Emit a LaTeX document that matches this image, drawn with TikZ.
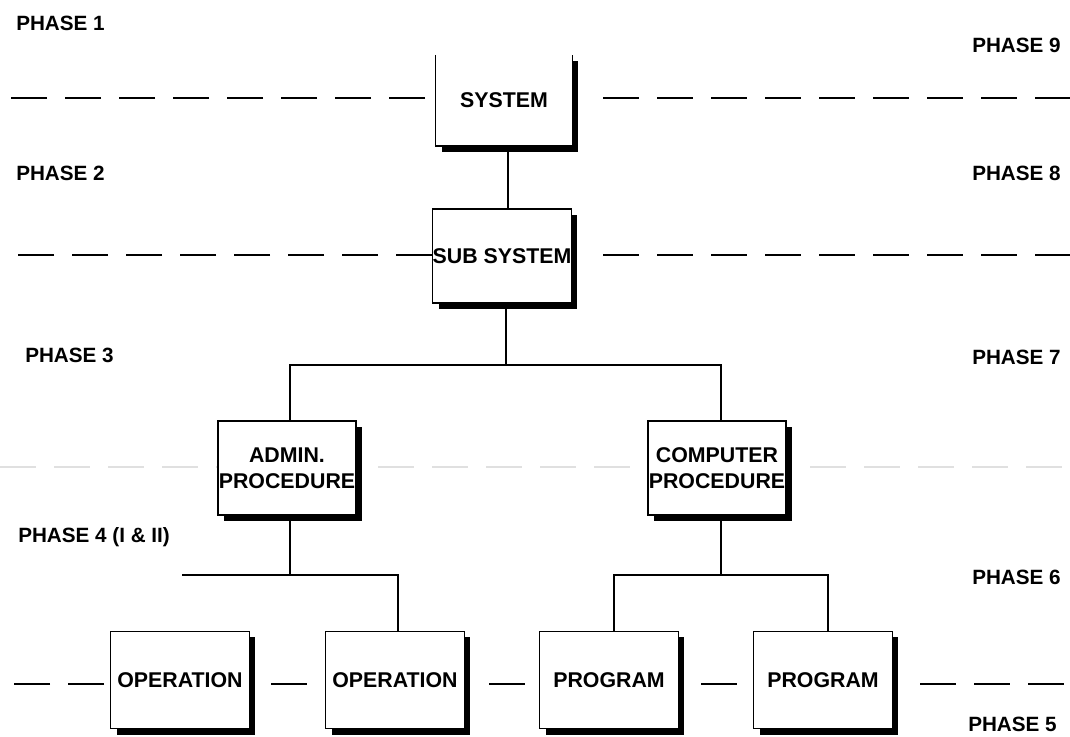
\documentclass[tikz,border=0pt]{standalone}
\usepackage{fontspec}
\setmainfont{Liberation Sans}
\usetikzlibrary{shadows}
\begin{document}
\begin{tikzpicture}[x=0.75pt,y=-0.75pt,
  lbl/.style={font=\fontsize{15.5}{19.5}\selectfont\bfseries, inner sep=0pt},
  boxlbl/.style={font=\fontsize{16}{19.5}\selectfont\bfseries, inner sep=0pt},
  boxshadow/.style={drop shadow={fill=black,opacity=1,shadow xshift=4.5pt,shadow yshift=-4.5pt}},
  unit/.style={boxlbl, boxshadow, fill=white, draw=black, line width=1.1pt, align=center,
               minimum width=103.5pt, minimum height=70.5pt},
  lowunit/.style={unit, minimum width=104pt, minimum height=73pt},
  openunit/.style={boxlbl, boxshadow, fill=white, draw=none, align=center,
               minimum width=102pt, minimum height=68pt},
  link/.style={line width=1.1pt},
  phaseline/.style={line width=1.1pt, dash pattern=on 27pt off 13.5pt},
  faintline/.style={line width=1.1pt, black!12, dash pattern=on 27pt off 13.5pt},
  phaselbl/.style={lbl, anchor=west}]
\useasboundingbox[fill=white] (0,0) rectangle (1070,737);

% phase separation lines
\draw[phaseline] (425,98) -- (0,98);
\draw[phaseline] (603,98) -- (1070,98);
\draw[phaseline] (432,255) -- (0,255);
\draw[phaseline] (603,255) -- (1070,255);
\draw[faintline] (0,467) -- (1070,467);
\draw[phaseline] (104,684) -- (0,684);
\draw[phaseline] (271,684) -- (309,684);
\draw[phaseline] (489,684) -- (525,684);
\draw[phaseline] (701,684) -- (737,684);
\draw[phaseline] (920,684) -- (1070,684);

% boxes
\node[openunit] (sys) at (504,100.5) {SYSTEM};
\draw[link] (sys.north west) -- (sys.south west) -- (sys.south east) -- (sys.north east);
\node[unit] (sub) at (502,256) {SUB SYSTEM};
\node[unit] (admin) at (287,468) {ADMIN.\\PROCEDURE};
\node[unit] (comp) at (717,468) {COMPUTER\\PROCEDURE};
\node[lowunit] (op1) at (180,680) {OPERATION};
\node[lowunit] (op2) at (395,680) {OPERATION};
\node[lowunit] (pr1) at (609,680) {PROGRAM};
\node[lowunit] (pr2) at (823,680) {PROGRAM};

% junction points
\coordinate (s0) at (508,150);
\coordinate (j1) at (506,365);
\coordinate (j1l) at (290,365);
\coordinate (j1r) at (721,365);
\coordinate (j2) at (290,575);
\coordinate (j2l) at (182,575);
\coordinate (j2r) at (398,575);
\coordinate (j3) at (721,575);
\coordinate (j3l) at (614,575);
\coordinate (j3r) at (828,575);

% connectors
\draw[link] (sys.south -| s0) -- (sub.north -| s0);
\draw[link] (sub.south -| j1) -- (j1);
\draw[link] (admin.north -| j1l) -- (j1l) -- (j1r) -- (comp.north -| j1r);
\draw[link] (admin.south -| j2) -- (j2);
\draw[link] (j2l) -- (j2r) -- (op2.north -| j2r);
\draw[link] (comp.south -| j3) -- (j3);
\draw[link] (pr1.north -| j3l) -- (j3l) -- (j3r) -- (pr2.north -| j3r);

% phase labels
\node[phaselbl] (p1) at (16,23) {PHASE 1};
\node[phaselbl] (p2) at (16,173) {PHASE 2};
\node[phaselbl] (p3) at (25,355) {PHASE 3};
\node[phaselbl] (p4) at (18,537) {PHASE 4 (I \& II)};
\node[phaselbl] (p9) at (972,45) {PHASE 9};
\node[phaselbl] (p8) at (972,173) {PHASE 8};
\node[phaselbl] (p7) at (972,357) {PHASE 7};
\node[phaselbl] (p6) at (972,577) {PHASE 6};
\node[phaselbl] (p5) at (968,724) {PHASE 5};
\end{tikzpicture}
\end{document}
